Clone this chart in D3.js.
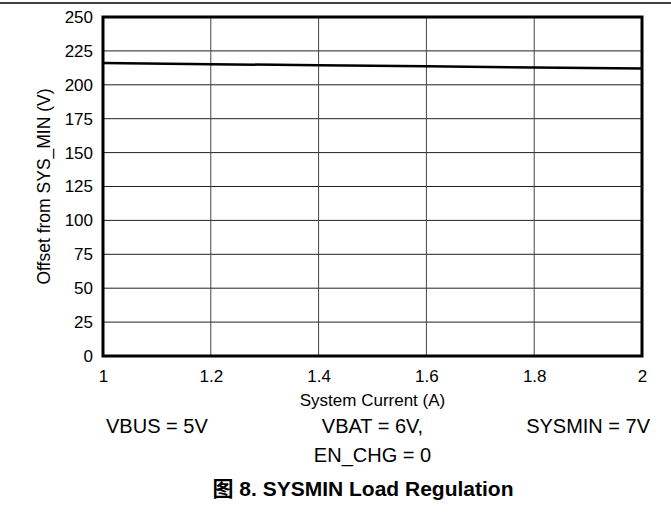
<!DOCTYPE html>
<html>
<head>
<meta charset="utf-8">
<script src="https://cdn.jsdelivr.net/npm/d3@7"></script>
<style>
  html, body { margin: 0; padding: 0; background: #fff; }
  svg text { font-family: "Liberation Sans", Arial, "Noto Sans CJK SC", sans-serif; fill: #000; }
</style>
</head>
<body>
<div id="chart"></div>
<script>
// data
const current = [1, 1.2, 1.4, 1.6, 1.8, 2];
const offset = [216, 215.2, 214.4, 213.6, 212.8, 212];
const xTicks = [1, 1.2, 1.4, 1.6, 1.8, 2];
const yTicks = [0, 25, 50, 75, 100, 125, 150, 175, 200, 225, 250];
const conditions = [
    { x: 1.1, lines: ["VBUS = 5V"] },
    { x: 1.5, lines: ["VBAT = 6V,", "EN_CHG = 0"] },
    { x: 1.9, lines: ["SYSMIN = 7V"] }
];

const W = 671, H = 518;
const m = { left: 103, right: 29, top: 17, bottom: 162 };

const svg = d3.select("#chart").append("svg")
    .attr("width", W)
    .attr("height", H);

// rule on top of the page
svg.append("line")
    .attr("x1", 0).attr("x2", W)
    .attr("y1", 3).attr("y2", 3)
    .attr("stroke", "#000").attr("stroke-width", 1.5);

const x = d3.scaleLinear().domain([1, 2]).range([m.left, W - m.right]);
const y = d3.scaleLinear().domain([0, 250]).range([H - m.bottom, m.top]);

// grid
svg.append("g")
    .selectAll("line")
    .data(yTicks.slice(1, -1))
    .enter().append("line")
    .attr("x1", m.left).attr("x2", W - m.right)
    .attr("y1", d => y(d)).attr("y2", d => y(d))
    .attr("stroke", "#222").attr("stroke-width", 1);

svg.append("g")
    .selectAll("line")
    .data(xTicks.slice(1, -1))
    .enter().append("line")
    .attr("y1", m.top).attr("y2", H - m.bottom)
    .attr("x1", d => x(d)).attr("x2", d => x(d))
    .attr("stroke", "#444").attr("stroke-width", 1);

// axes, labels only
const yAxis = svg.append("g")
    .attr("transform", `translate(${m.left},0)`)
    .call(d3.axisLeft(y).tickValues(yTicks).tickSize(0).tickPadding(10));
yAxis.select(".domain").remove();
yAxis.selectAll("text").attr("font-size", 17).attr("font-family", null);

const xAxis = svg.append("g")
    .attr("transform", `translate(0,${H - m.bottom})`)
    .call(d3.axisBottom(x).tickValues(xTicks).tickFormat(d3.format("")).tickSize(0).tickPadding(14));
xAxis.select(".domain").remove();
xAxis.selectAll("text").attr("font-size", 17).attr("font-family", null);

// frame
svg.append("rect")
    .attr("x", m.left).attr("y", m.top)
    .attr("width", W - m.left - m.right)
    .attr("height", H - m.top - m.bottom)
    .attr("fill", "none")
    .attr("stroke", "#000").attr("stroke-width", 3);

// the curve
const line = d3.line()
    .x((d, i) => x(current[i]))
    .y(d => y(d));

svg.append("path")
    .datum(offset)
    .attr("d", line)
    .attr("fill", "none")
    .attr("stroke", "#000")
    .attr("stroke-width", 2.5);

// axis titles
svg.append("text")
    .attr("x", (m.left + W - m.right) / 2)
    .attr("y", 406)
    .attr("text-anchor", "middle")
    .attr("font-size", 17)
    .text("System Current (A)");

svg.append("text")
    .attr("transform", `translate(50,${(m.top + H - m.bottom) / 2}) rotate(-90)`)
    .attr("text-anchor", "middle")
    .attr("font-size", 17.5)
    .text("Offset from SYS_MIN (V)");

// conditions under the chart
conditions.forEach(c => {
    c.lines.forEach((t, i) => {
        svg.append("text")
            .attr("x", x(c.x))
            .attr("y", 433 + i * 29)
            .attr("text-anchor", "middle")
            .attr("font-size", 20)
            .text(t);
    });
});

svg.append("text")
    .attr("x", 363)
    .attr("y", 496)
    .attr("text-anchor", "middle")
    .attr("font-size", 21)
    .attr("font-weight", "bold")
    .text("图 8. SYSMIN Load Regulation");
</script>
</body>
</html>
